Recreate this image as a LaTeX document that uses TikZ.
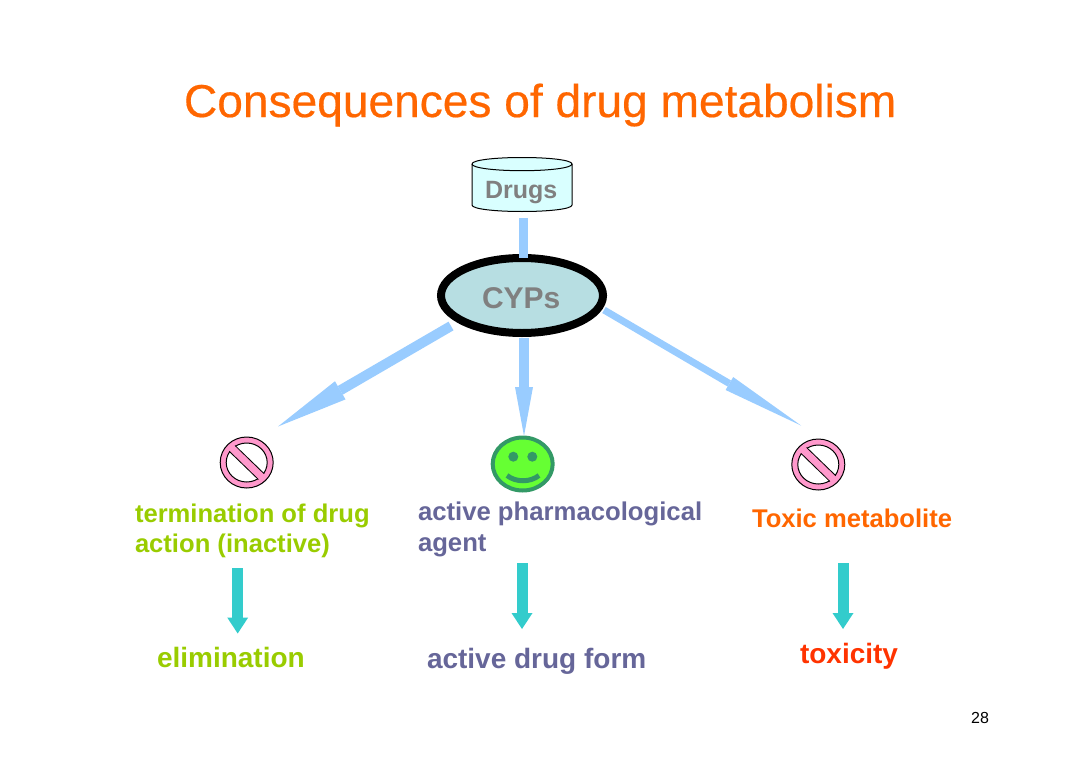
\documentclass[tikz,border=0pt]{standalone}
\usepackage{fontspec}
\setmainfont{Liberation Sans}
\usetikzlibrary{arrows.meta,shapes.geometric}
\definecolor{titleorange}{HTML}{FF6600}
\definecolor{toxred}{HTML}{FF3300}
\definecolor{lime}{HTML}{99CC00}
\definecolor{slate}{HTML}{666699}
\definecolor{lightblue}{HTML}{99CCFF}
\definecolor{teal2}{HTML}{33CCCC}
\definecolor{cypfill}{HTML}{B7DEE2}
\definecolor{drugfill}{HTML}{D9FFFF}
\definecolor{pinkring}{HTML}{FF99CC}
\definecolor{smilegreen}{HTML}{66FF33}
\definecolor{smileedge}{HTML}{339966}
\tikzset{
  txt/.style={inner sep=0,outer sep=0,anchor=base west,font=\fontsize{#1}{#1}\selectfont\bfseries},
  blue arrow/.style={draw=lightblue,line width=#1},
  teal arrow/.style={draw=teal2,line width=11pt,-{Triangle[length=16pt,width=21pt,color=teal2,line width=0pt]}},
}
\newcommand{\nosign}[3]{%
  \node[ellipse,draw=black,line width=1pt,fill=pinkring,minimum width=53pt,minimum height=51pt,inner sep=0] (#1) at (#2,#3) {};
  \fill[white,draw=black,line width=1pt] (#2,#3) ellipse [x radius=20.5,y radius=19.5];
  \draw[black,line width=9pt] (#2-14.5,#3-14) -- (#2+14.5,#3+14);
  \draw[pinkring,line width=7pt] (#2-17,#3-16.5) -- (#2+17,#3+16.5);
}
\begin{document}
\begin{tikzpicture}[x=1pt,y=-1pt]
\useasboundingbox (0,0) rectangle (1080,763);
\node[inner sep=0,outer sep=0,anchor=base west,text=titleorange,font=\fontsize{46.1}{46}\selectfont\addfontfeature{FakeBold=0.4}] (title) at (184,117) {Consequences of drug metabolism};

% Drugs cylinder
\fill[drugfill,draw=black,line width=1pt] (472,164) -- (472,205)
  .. controls (472,209) and (495,211.5) .. (522,211.5)
  .. controls (549,211.5) and (572,209) .. (572,205) -- (572,164)
  .. controls (572,160) and (549,157.5) .. (522,157.5)
  .. controls (495,157.5) and (472,160) .. (472,164) -- cycle;
\draw[black,line width=1pt] (472,164) .. controls (472,168) and (495,170.7) .. (522,170.7)
  .. controls (549,170.7) and (572,168) .. (572,164);
\node[txt=25,text=gray] (drugs) at (485,198) {Drugs};

% CYPs
\node[ellipse,draw=black,line width=8pt,fill=cypfill,minimum width=162pt,minimum height=75pt,inner sep=0] (cyps) at (522,295.5) {};
\node[txt=30,text=gray] (cypslabel) at (482,308) {CYPs};

% icons
\nosign{noleft}{246.7}{462.5}
\nosign{noright}{818.3}{464.5}
\node[ellipse,draw=smileedge,line width=4pt,fill=smilegreen,minimum width=60pt,minimum height=53pt,inner sep=0] (smile) at (522.7,464) {};
\fill[smileedge] (513.3,456.7) circle [radius=5] (532.3,456.7) circle [radius=5];
\draw[smileedge,line width=5pt] (507,475.5) .. controls (516,482.5) and (530,482.5) .. (539,475.5);

% connectors from CYPs
\coordinate (s0) at (523.3,218);
\coordinate (e0) at (523.3,258);
\coordinate (s1) at (451,326);
\coordinate (t1) at (278,426.5);
\coordinate (s2) at (524,338);
\coordinate (t2) at (524,436);
\coordinate (s3) at (604,310);
\coordinate (t3) at (801,425.5);
\draw[blue arrow=9pt] (s0) -- (e0);
\draw[blue arrow=10pt,-{Triangle[length=72pt,width=21pt,color=lightblue,line width=0pt]}] (s1) -- (t1);
\draw[blue arrow=9.5pt,-{Triangle[length=49pt,width=18pt,color=lightblue,line width=0pt]}] (s2) -- (t2);
\draw[blue arrow=7pt,-{Triangle[length=83pt,width=15pt,color=lightblue,line width=0pt]}] (s3) -- (t3);

% labels
\node[txt=25.6,text=lime] (a1) at (135,522) {termination of drug};
\node[txt=25.6,text=lime] (a2) at (135,552) {action (inactive)};
\node[txt=25.7,text=slate] (b1) at (418,520) {active pharmacological};
\node[txt=25.7,text=slate] (b2) at (418,551) {agent};
\node[txt=25.6,text=titleorange] (c1) at (752,527) {Toxic metabolite};
\node[txt=28,text=lime] (a3) at (157,667) {elimination};
\node[txt=28,text=slate] (b3) at (427,668) {active drug form};
\node[txt=28,text=toxred] (c3) at (800,663) {toxicity};

% teal arrows
\coordinate (ta1) at (237.7,568); \coordinate (ta2) at (237.7,633.5);
\coordinate (tb1) at (522,563);   \coordinate (tb2) at (522,629);
\coordinate (tc1) at (843,563);   \coordinate (tc2) at (843,629);
\draw[teal arrow] (ta1) -- (ta2);
\draw[teal arrow] (tb1) -- (tb2);
\draw[teal arrow] (tc1) -- (tc2);

\node[inner sep=0,anchor=base west,font=\fontsize{16}{16}\selectfont] (pg) at (971,723) {28};
\end{tikzpicture}
\end{document}
